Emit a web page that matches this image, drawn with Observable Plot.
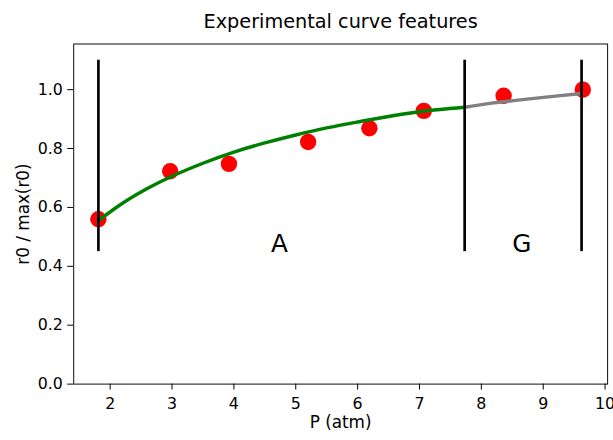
<!DOCTYPE html>
<html>
<head>
<meta charset="utf-8">
<script src="https://cdn.jsdelivr.net/npm/d3@7"></script>
<script src="https://cdn.jsdelivr.net/npm/@observablehq/plot@0.6"></script>
<style>
  html, body { margin: 0; padding: 0; background: #fff; overflow: hidden; width: 613px; height: 440px; }
</style>
</head>
<body>
<div id="chart"></div>
<script>
// measured points
const pressure = [1.81, 2.97, 3.92, 5.20, 6.19, 7.07, 8.36, 9.64];
const ratio    = [0.560, 0.723, 0.748, 0.822, 0.869, 0.928, 0.979, 1.000];

// fitted curve, region A (green)
const fitAx = [1.81, 2.2, 2.6, 3.0, 3.5, 4.0, 4.5, 5.0, 5.5, 6.0, 6.5, 7.0, 7.73];
const fitAy = [0.555, 0.614, 0.664, 0.706, 0.750, 0.788, 0.819, 0.846, 0.870, 0.890, 0.909, 0.925, 0.940];
// fitted curve, region G (gray)
const fitGx = [7.73, 8.2, 8.7, 9.2, 9.62];
const fitGy = [0.940, 0.955, 0.967, 0.978, 0.987];

// region boundaries
const boundaries = [1.81, 7.73, 9.62];
const boundaryY = [0.45, 1.1];

// region labels
const regionNames = ["A", "G"];
const regionX = [4.6, 8.5];
const regionY = [0.45, 0.45];

const xTicks = [2, 3, 4, 5, 6, 7, 8, 9, 10];
const yTicks = [0, 0.2, 0.4, 0.6, 0.8, 1.0];

const points = pressure.map((p, i) => ({p, r: ratio[i]}));
const curveA = fitAx.map((p, i) => ({p, r: fitAy[i]}));
const curveG = fitGx.map((p, i) => ({p, r: fitGy[i]}));
const regions = regionNames.map((n, i) => ({n, p: regionX[i], r: regionY[i]}));

const chart = Plot.plot({
  width: 620,
  height: 440,
  marginLeft: 74,
  marginRight: 6,
  marginTop: 44,
  marginBottom: 52,
  style: {fontFamily: "DejaVu Sans", fontSize: "16px", color: "#000", background: "#fff"},
  x: {domain: [1.41, 10.04]},
  y: {domain: [0, 1.155]},
  marks: [
    Plot.dot(points, {x: "p", y: "r", r: 8.3, fill: "red", stroke: "none"}),
    Plot.line(curveA, {x: "p", y: "r", stroke: "green", strokeWidth: 3.5, curve: "natural"}),
    Plot.line(curveG, {x: "p", y: "r", stroke: "gray", strokeWidth: 3.5, curve: "natural"}),
    Plot.ruleX(boundaries, {x: d => d, y1: boundaryY[0], y2: boundaryY[1], stroke: "black", strokeWidth: 2.7}),
    Plot.text(regions, {x: "p", y: "r", text: "n", textAnchor: "start", lineAnchor: "bottom", fontSize: 25, fill: "#000"}),
    Plot.frame({stroke: "#222", strokeWidth: 1.1}),
    Plot.axisX({ticks: xTicks, tickSize: 6, tickPadding: 8, label: null, tickFormat: d3.format("d")}),
    Plot.axisY({ticks: yTicks, tickSize: 6, tickPadding: 5, label: null, tickFormat: d3.format(".1f")}),
    Plot.text(["P (atm)"], {frameAnchor: "bottom", dy: 44, lineAnchor: "bottom", fontSize: 17, fill: "#000"}),
    Plot.text(["r0 / max(r0)"], {frameAnchor: "left", dx: -45, rotate: -90, textAnchor: "middle", lineAnchor: "bottom", fontSize: 17, fill: "#000"}),
    Plot.text(["Experimental curve features"], {frameAnchor: "top", dy: -16, lineAnchor: "bottom", fontSize: 19.5, fill: "#000"})
  ]
});
document.getElementById("chart").appendChild(chart);
</script>
</body>
</html>
